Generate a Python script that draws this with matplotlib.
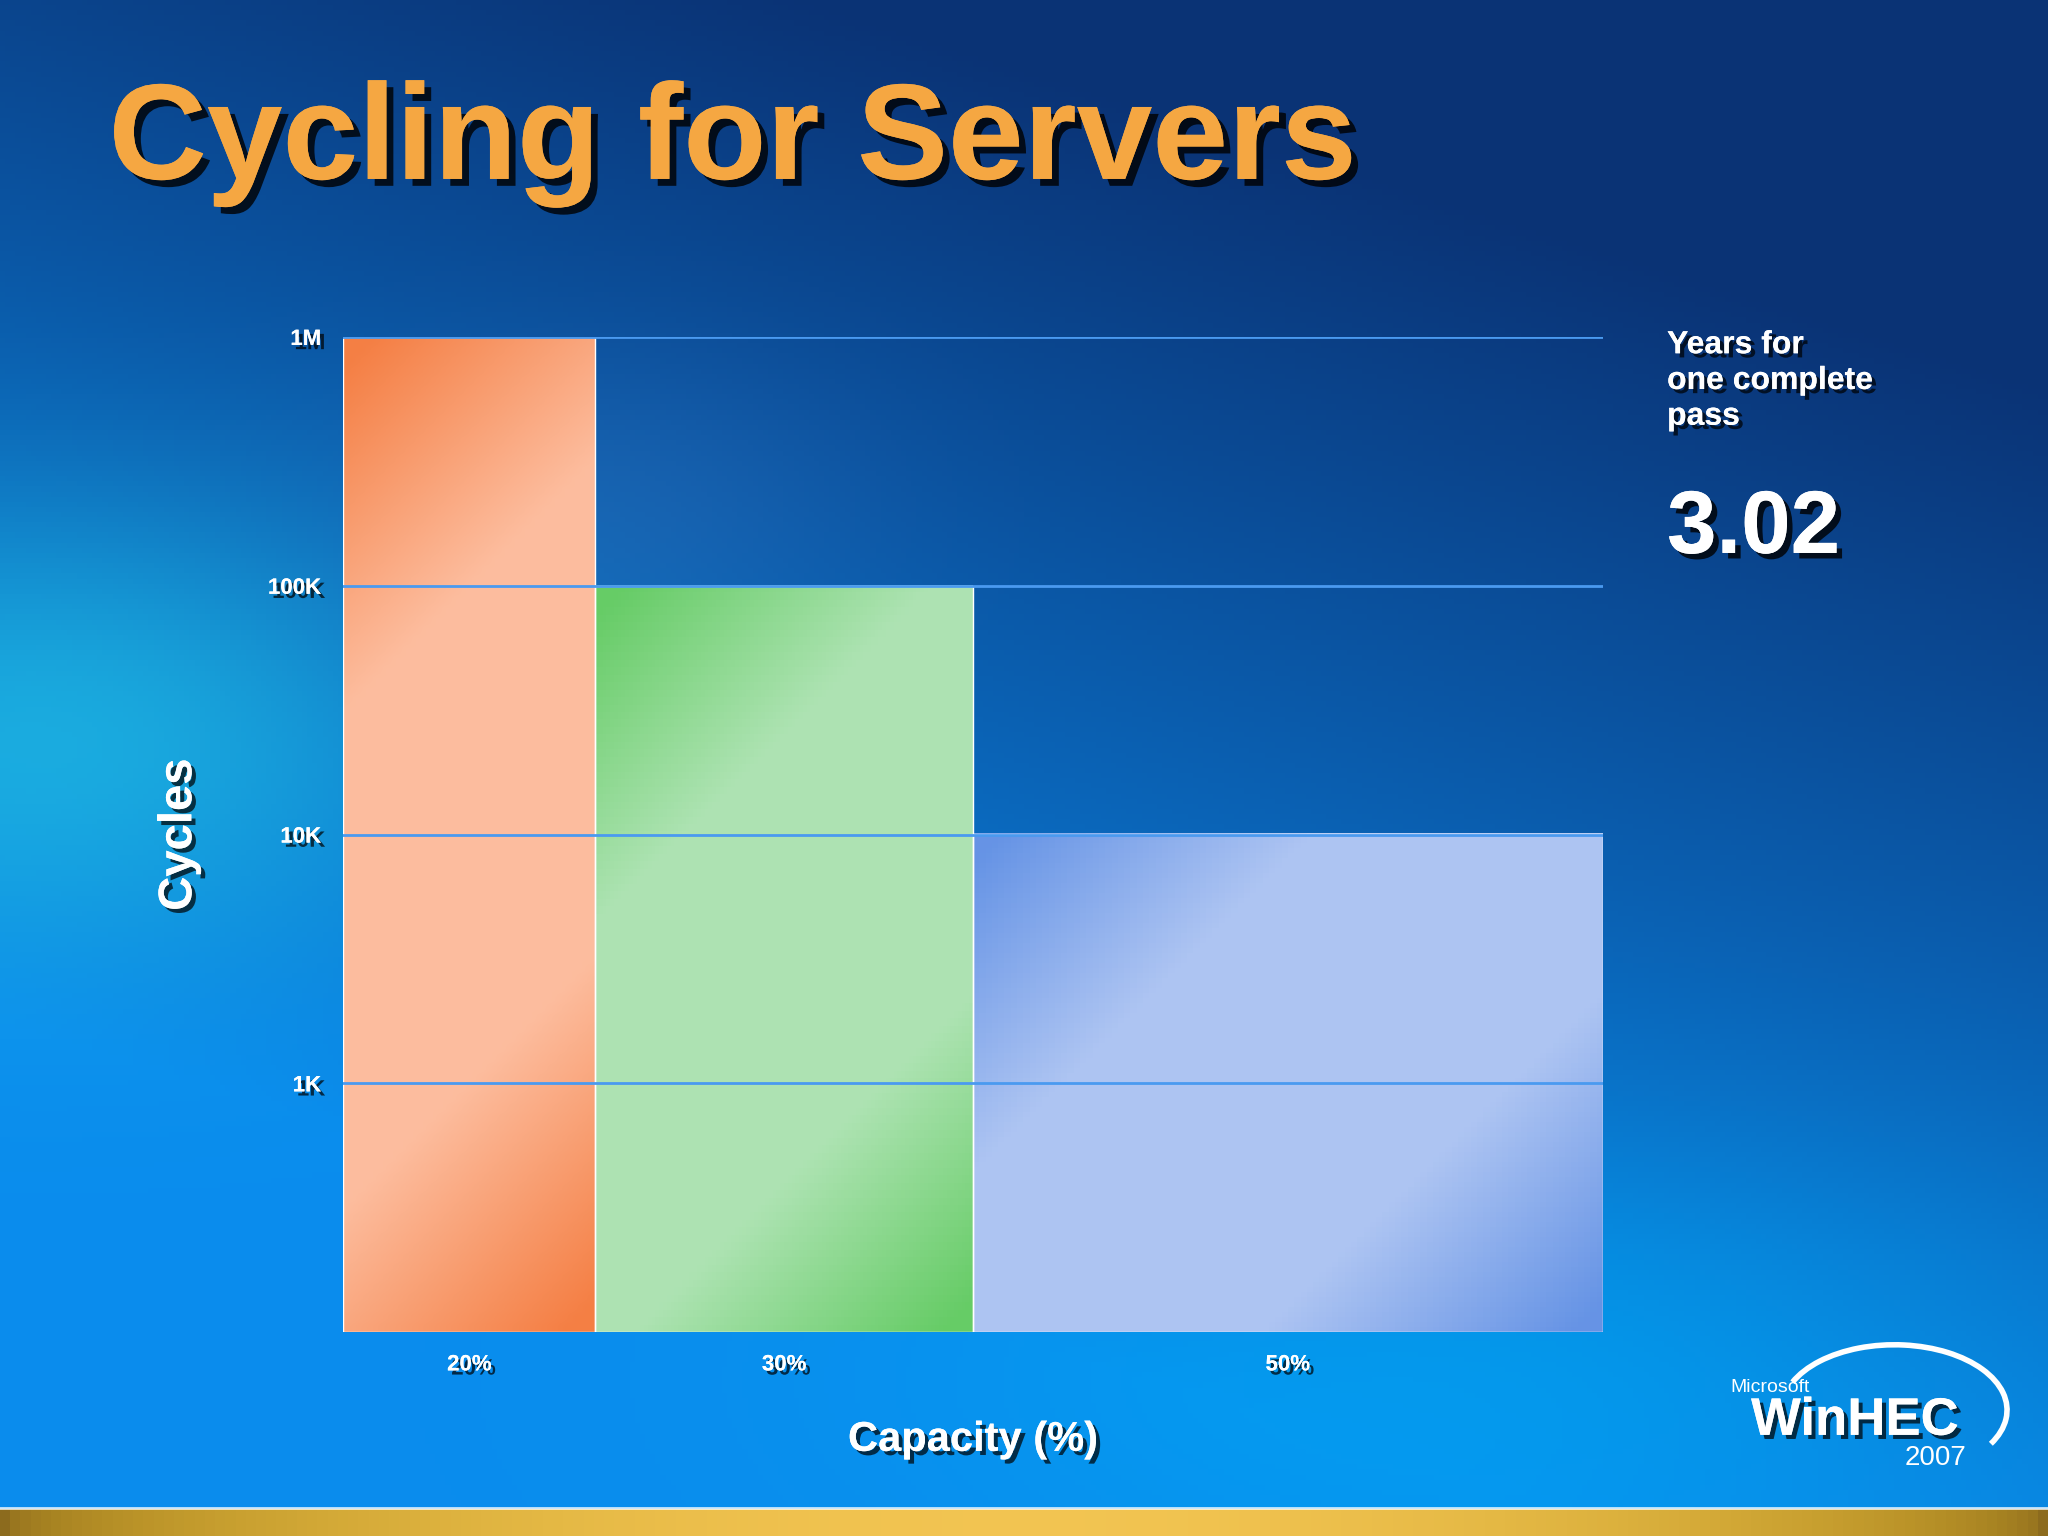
import numpy as np
import matplotlib
matplotlib.use("Agg")
import matplotlib.pyplot as plt
from matplotlib.patches import Arc
import matplotlib.patheffects as pe

capacity_labels = ["20%", "30%", "50%"]
capacity_widths = [20, 30, 50]
cycles = [1_000_000, 100_000, 10_000]
ytick_values = [1_000, 10_000, 100_000, 1_000_000]
ytick_labels = ["1K", "10K", "100K", "1M"]
years_value = "3.02"

plt.rcParams['font.family'] = ['Liberation Sans', 'DejaVu Sans']
fig = plt.figure(figsize=(20.48, 15.36), dpi=100)

# background
bg = fig.add_axes([0, 0, 1, 1]); bg.set_axis_off()
H, W = 300, 400
yy, xx = np.mgrid[0:1:H*1j, 0:1:W*1j]  # yy=0 top
dark = np.array([0.04, 0.20, 0.46]); bright = np.array([0.04, 0.55, 0.93]); cyan = np.array([0.13, 0.76, 0.90])
t = np.clip(yy * 1.2 + (0.4 - xx) * 0.5, 0, 1)[..., None]
img = dark * (1 - t) + bright * t
g = np.exp(-(((xx - 0.02) / 0.2) ** 2 + ((yy - 0.48) / 0.15) ** 2))[..., None]
img = img * (1 - 0.7 * g) + cyan * 0.7 * g
g2 = np.exp(-(((xx - 0.72) / 0.28) ** 2 + ((yy - 0.9) / 0.15) ** 2))[..., None]
img = img * (1 - 0.6 * g2) + np.array([0.0, 0.65, 0.95]) * 0.6 * g2
g3 = np.exp(-(((xx - 0.3) / 0.12) ** 2 + ((yy - 0.33) / 0.1) ** 2))[..., None]
img = img * (1 - 0.3 * g3) + np.array([0.2, 0.45, 0.75]) * 0.3 * g3
bg.imshow(np.clip(img, 0, 1), extent=[0, 1, 0, 1], aspect='auto', origin='upper')
gold = np.linspace(0, 1, 200)
strip = np.array([[0.55 + 0.4*np.sin(np.pi*v)**0.5, 0.42 + 0.35*np.sin(np.pi*v)**0.5, 0.12 + 0.2*np.sin(np.pi*v)] for v in gold])[None]
bg.imshow(np.clip(strip, 0, 1), extent=[0, 1, 0, 0.017], aspect='auto')
bg.plot([0, 1], [0.018, 0.018], color='white', lw=2, alpha=0.8)
bg.set_xlim(0, 1); bg.set_ylim(0, 1)

shadow = [pe.withSimplePatchShadow(offset=(3, -3), shadow_rgbFace='black', alpha=0.7), pe.Normal()]
fig.text(0.053, 0.906, "Cycling for Servers", color='#F5A742', fontsize=98, fontweight='bold',
         va='center', path_effects=[pe.withSimplePatchShadow(offset=(5, -5), shadow_rgbFace='black', alpha=0.8), pe.Normal()])

ax = fig.add_axes([0.1677, 0.1327, 0.6148, 0.6479])
ax.patch.set_alpha(0)
ax.set_yscale('log')
ymin, ymax = 100, 1_000_000
total = sum(capacity_widths)
lefts = np.concatenate([[0], np.cumsum(capacity_widths)[:-1]])
grads = [((0.96, 0.50, 0.27), (0.99, 0.74, 0.62)),
         ((0.40, 0.80, 0.40), (0.68, 0.89, 0.70)),
         ((0.40, 0.58, 0.90), (0.68, 0.77, 0.95))]
bars = ax.bar(lefts, cycles, width=capacity_widths, bottom=ymin, align='edge',
              color='none', edgecolor='white', linewidth=1.0, zorder=3)
gy, gx = np.mgrid[0:1:100j, 0:1:100j]
L = np.log10
for b, (c1, c2) in zip(bars, grads):
    x0 = b.get_x() / total; x1 = (b.get_x() + b.get_width()) / total
    y1 = (L(b.get_y() + b.get_height()) - L(ymin)) / (L(ymax) - L(ymin))
    w_px = x1 - x0; h_px = y1 * 0.6479 / 0.6148 * 0.75
    u = (gx * w_px + gy * h_px) / (w_px + h_px)
    d = np.abs(u - 0.5) * 2
    s = np.clip((d - 0.4) * 1.8, 0, 1)[..., None]
    im = np.array(c2) * (1 - s) + np.array(c1) * s
    ax.imshow(im, extent=[x0, x1, 0, y1], transform=ax.transAxes, aspect='auto',
              zorder=2, origin='upper')
ax.set_xlim(0, total); ax.set_ylim(ymin, ymax)
for v in ytick_values:
    ax.axhline(v, color='#4A9AF0', lw=2, zorder=4)
ax.set_yticks(ytick_values); ax.set_yticklabels(ytick_labels)
ax.yaxis.set_minor_locator(matplotlib.ticker.NullLocator())
ax.set_xticks(lefts + np.array(capacity_widths) / 2)
ax.set_xticklabels(capacity_labels)
ax.tick_params(length=0, colors='white', labelsize=16, pad=16)
for lab in ax.get_xticklabels() + ax.get_yticklabels():
    lab.set_fontweight('bold'); lab.set_path_effects(shadow)
for s in ax.spines.values():
    s.set_visible(False)
ax.set_xlabel("Capacity (%)", color='white', fontsize=30, fontweight='bold', labelpad=32, path_effects=shadow)
ax.set_ylabel("Cycles", color='white', fontsize=34, fontweight='bold', labelpad=48, path_effects=shadow)

fig.text(0.814, 0.785, "Years for\none complete\npass", color='white', fontsize=23, fontweight='bold',
         va='top', linespacing=1.25, path_effects=shadow)
fig.text(0.814, 0.655, years_value, color='white', fontsize=64, fontweight='bold', va='center',
         path_effects=[pe.withSimplePatchShadow(offset=(4, -4), shadow_rgbFace='black', alpha=0.8), pe.Normal()])

# logo
fig.text(0.845, 0.097, "Microsoft", color='white', fontsize=14, va='center')
fig.text(0.855, 0.075, "WinHEC", color='white', fontsize=38, fontweight='bold', va='center', path_effects=shadow)
fig.text(0.96, 0.051, "2007", color='white', fontsize=20, ha='right', va='center')
bg.add_patch(Arc((0.925, 0.082), 0.11, 0.085, theta1=-25, theta2=160, color='white', lw=4))

fig.savefig("out.png", dpi=100)
